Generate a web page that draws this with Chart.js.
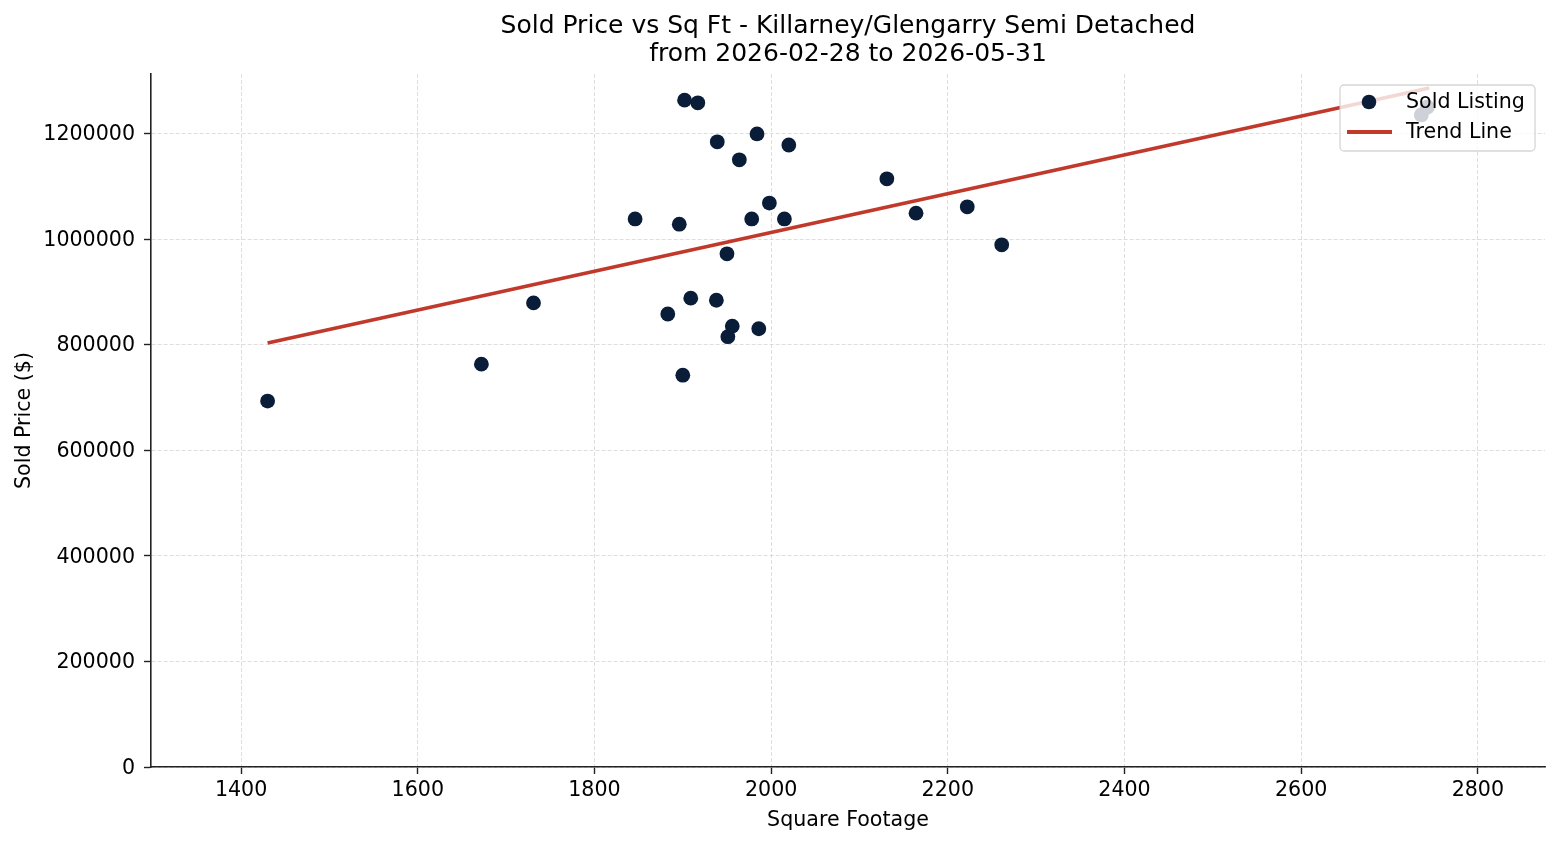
<!DOCTYPE html>
<html>
<head>
<meta charset="utf-8">
<title>Sold Price vs Sq Ft</title>
<script src="https://cdn.jsdelivr.net/npm/chart.js@4.4.1/dist/chart.umd.min.js"></script>
<style>
  html, body { margin: 0; padding: 0; background: #fff; }
  #wrap { width: 1560px; height: 845px; }
</style>
</head>
<body>
<div id="wrap"><canvas id="chart" width="1560" height="845"></canvas></div>
<script>
/* Sold price vs square footage scatter with trend line */

const sqft = [1430, 1672, 1731, 1846, 1883, 1896, 1900, 1902, 1909, 1917, 1938, 1939, 1950, 1951,
  1956, 1964, 1978, 1984, 1986, 1998, 2015, 2020, 2131, 2164, 2222, 2261, 2736, 2743];
const soldPrice = [693000, 763000, 879000, 1038000, 858000, 1028000, 742000, 1263000, 888000,
  1258000, 884000, 1184000, 972000, 815000, 835000, 1150000, 1038000, 1199000, 830000, 1068000,
  1038000, 1178000, 1114000, 1049000, 1061000, 989000, 1235000, 1250000];

const trendX = [1430, 2745];
const trendY = [803000, 1286000];

const xTicks = [1400, 1600, 1800, 2000, 2200, 2400, 2600, 2800];
const yTicks = [0, 200000, 400000, 600000, 800000, 1000000, 1200000];

const FONT = "'DejaVu Sans', 'Liberation Sans', sans-serif";
const BASE = 20.6;
const POINT_COLOR = "#0a1d38";
const LINE_COLOR = "#c0392b";

// matplotlib style legend, drawn inside the plot area
const legendBox = {
  id: "legendBox",
  afterDatasetsDraw(chart) {
    const { ctx, chartArea } = chart;
    const w = 195, h = 66;
    const x = chartArea.right - 10 - w;
    const y = chartArea.top + 11;
    ctx.save();
    ctx.beginPath();
    ctx.roundRect(x, y, w, h, 4);
    ctx.fillStyle = "rgba(255,255,255,0.8)";
    ctx.fill();
    ctx.strokeStyle = "rgba(204,204,204,0.8)";
    ctx.lineWidth = 1.3;
    ctx.stroke();

    const rows = [y + 17, y + 47];
    const sets = chart.data.datasets;
    // scatter handle
    ctx.beginPath();
    ctx.arc(x + 29, rows[0], 7.3, 0, Math.PI * 2);
    ctx.fillStyle = sets[0].backgroundColor;
    ctx.fill();
    // line handle
    ctx.beginPath();
    ctx.moveTo(x + 7, rows[1]);
    ctx.lineTo(x + 52, rows[1]);
    ctx.strokeStyle = sets[1].borderColor;
    ctx.lineWidth = 3.8;
    ctx.stroke();

    ctx.fillStyle = "#000";
    ctx.font = `${BASE}px ${FONT}`;
    ctx.textBaseline = "middle";
    ctx.textAlign = "left";
    sets.forEach((ds, i) => ctx.fillText(ds.label, x + 66, rows[i] + 1));
    ctx.restore();
  },
};

const gridStyle = {
  color: "rgba(200,200,200,0.75)",
  lineWidth: 0.8,
  tickLength: 7,
  tickColor: "#222",
  tickWidth: 1.4,
  tickBorderDash: [],
};
const borderStyle = { display: true, color: "#222", width: 1.6, dash: [4, 2] };

new Chart(document.getElementById("chart"), {
  type: "scatter",
  data: {
    datasets: [
      {
        label: "Sold Listing",
        data: sqft.map((v, i) => ({ x: v, y: soldPrice[i] })),
        backgroundColor: POINT_COLOR,
        borderWidth: 0,
        pointRadius: 7.4,
        order: 1,
      },
      {
        type: "line",
        label: "Trend Line",
        data: trendX.map((v, i) => ({ x: v, y: trendY[i] })),
        borderColor: LINE_COLOR,
        borderWidth: 3.8,
        pointRadius: 0,
        fill: false,
        order: 0,
      },
    ],
  },
  options: {
    responsive: false,
    animation: false,
    devicePixelRatio: 1,
    layout: { padding: { left: 0, right: 15, top: 0, bottom: 0 } },
    scales: {
      x: {
        type: "linear",
        min: 1298,
        max: 2876,
        afterBuildTicks: (s) => { s.ticks = xTicks.map((v) => ({ value: v })); },
        afterFit: (s) => { s.height = 78; },
        grid: gridStyle,
        border: borderStyle,
        ticks: {
          color: "#000",
          padding: 4,
          font: { family: FONT, size: BASE },
          callback: (v) => String(v),
        },
        title: {
          display: true,
          text: "Square Footage",
          color: "#000",
          font: { family: FONT, size: BASE },
          padding: { top: 0, bottom: 12 },
        },
      },
      y: {
        type: "linear",
        min: 0,
        max: 1312500,
        afterBuildTicks: (s) => { s.ticks = yTicks.map((v) => ({ value: v })); },
        afterFit: (s) => { s.width = 151; },
        grid: gridStyle,
        border: borderStyle,
        ticks: {
          color: "#000",
          padding: 9,
          labelOffset: 1.5,
          font: { family: FONT, size: BASE },
          callback: (v) => String(v),
        },
        title: {
          display: true,
          text: "Sold Price ($)",
          color: "#000",
          font: { family: FONT, size: BASE },
          padding: { top: 12, bottom: 0 },
        },
      },
    },
    plugins: {
      legend: { display: false },
      tooltip: { enabled: false },
      title: {
        display: true,
        fullSize: false,
        text: [
          "Sold Price vs Sq Ft - Killarney/Glengarry Semi Detached",
          "from 2026-02-28 to 2026-05-31",
        ],
        color: "#000",
        font: { family: FONT, size: 25, weight: "normal", lineHeight: 1.12 },
        padding: { top: 12, bottom: 6 },
      },
    },
  },
  plugins: [legendBox],
});
</script>
</body>
</html>
